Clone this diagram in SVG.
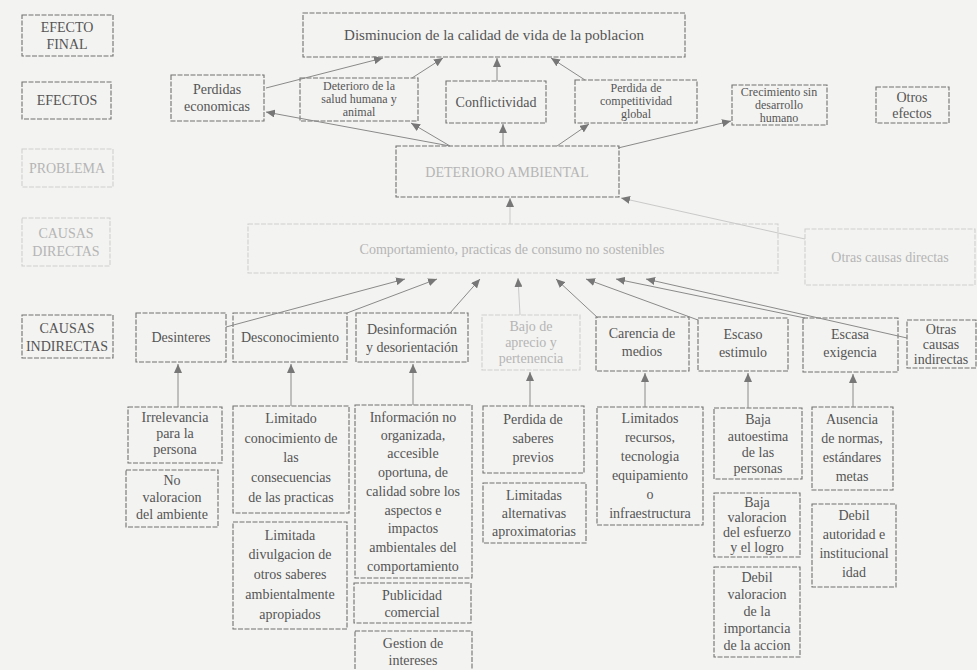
<svg xmlns="http://www.w3.org/2000/svg" width="977" height="670" viewBox="0 0 977 670">
<defs>
<style>
.bg{fill:#f3f3f1}
.box{fill:none;stroke:#707070;stroke-width:1.1;stroke-dasharray:5 1.5}
.fbox{fill:none;stroke:#cfcfcf;stroke-width:1.1;stroke-dasharray:5 1.5}
text{font-family:"Liberation Serif","DejaVu Serif",serif;font-size:14px;fill:#555;text-anchor:middle}
.f{fill:#b5b5b5}
.big{font-size:15px}
.sm{font-size:12px}
.c line{stroke:#8a8a8a;stroke-width:1;fill:none;marker-end:url(#ah)}
.c .fl{stroke:#c9c9c9}
</style>
<marker id="ah" markerUnits="userSpaceOnUse" markerWidth="9" markerHeight="8" refX="9" refY="4" orient="auto">
<path d="M0,0 L9,4 L0,8 z" fill="#777"/>
</marker>
</defs>
<rect class="bg" x="0" y="0" width="977" height="670"/>

<g id="lbl-efecto-final"><rect class="box" x="22" y="15" width="91" height="41"/><text x="67" y="32">EFECTO</text><text x="67" y="49">FINAL</text></g>
<g id="lbl-efectos"><rect class="box" x="22" y="82" width="89" height="37"/><text x="67" y="105">EFECTOS</text></g>
<g id="lbl-problema"><rect class="fbox" x="22" y="149" width="91" height="38"/><text class="f" x="67" y="173">PROBLEMA</text></g>
<g id="lbl-causas-directas"><rect class="fbox" x="22" y="218" width="88" height="48"/><text class="f" x="66" y="238">CAUSAS</text><text class="f" x="66" y="256">DIRECTAS</text></g>
<g id="lbl-causas-indirectas"><rect class="box" x="22" y="315" width="91" height="43"/><text x="67" y="333">CAUSAS</text><text x="67" y="351">INDIRECTAS</text></g>

<g id="efecto-final"><rect class="box" x="303" y="13" width="382" height="44"/><text class="big" x="494" y="40">Disminucion de la calidad de vida de la poblacion</text></g>

<g id="perdidas-economicas"><rect class="box" x="171" y="75" width="93" height="46"/><text x="217" y="94">Perdidas</text><text x="217" y="111">economicas</text></g>
<g id="deterioro-salud"><rect class="box" x="300" y="78" width="118" height="43"/><text class="sm" x="359" y="90">Deterioro de la</text><text class="sm" x="359" y="103">salud humana y</text><text class="sm" x="359" y="116">animal</text></g>
<g id="conflictividad"><rect class="box" x="446" y="81" width="100" height="42"/><text x="496" y="107">Conflictividad</text></g>
<g id="perdida-competitividad"><rect class="box" x="575" y="80" width="122" height="43"/><text class="sm" x="636" y="92">Perdida de</text><text class="sm" x="636" y="105">competitividad</text><text class="sm" x="636" y="118">global</text></g>
<g id="crecimiento"><rect class="box" x="732" y="85" width="95" height="40"/><text class="sm" x="779" y="96">Crecimiento sin</text><text class="sm" x="779" y="109">desarrollo</text><text class="sm" x="779" y="122">humano</text></g>
<g id="otros-efectos"><rect class="box" x="876" y="87" width="73" height="36"/><text x="912" y="102">Otros</text><text x="912" y="118">efectos</text></g>

<g id="problema"><rect class="box" x="396" y="146" width="223" height="51"/><text class="f" x="507" y="177">DETERIORO AMBIENTAL</text></g>

<g id="causa-directa"><rect class="fbox" x="248" y="224" width="530" height="49"/><text class="f" x="512" y="254">Comportamiento, practicas de consumo no sostenibles</text></g>
<g id="otras-causas-directas"><rect class="fbox" x="805" y="229" width="170" height="56"/><text class="f" x="890" y="262">Otras causas directas</text></g>

<g id="desinteres"><rect class="box" x="136" y="313" width="90" height="49"/><text x="181" y="342">Desinteres</text></g>
<g id="desconocimiento"><rect class="box" x="233" y="313" width="114" height="49"/><text x="290" y="342">Desconocimiento</text></g>
<g id="desinformacion"><rect class="box" x="356" y="313" width="112" height="49"/><text x="412" y="334">Desinformación</text><text x="412" y="352">y desorientación</text></g>
<g id="bajo-de"><rect class="fbox" x="482" y="315" width="98" height="55"/><text class="f" x="531" y="331">Bajo de</text><text class="f" x="531" y="347">aprecio y</text><text class="f" x="531" y="363">pertenencia</text></g>
<g id="carencia-medios"><rect class="box" x="596" y="317" width="93" height="54"/><text x="642" y="338">Carencia de</text><text x="642" y="356">medios</text></g>
<g id="escaso-estimulo"><rect class="box" x="698" y="318" width="90" height="53"/><text x="743" y="339">Escaso</text><text x="743" y="357">estimulo</text></g>
<g id="escasa-exigencia"><rect class="box" x="803" y="318" width="95" height="54"/><text x="850" y="339">Escasa</text><text x="850" y="357">exigencia</text></g>
<g id="otras-causas-indirectas"><rect class="box" x="907" y="320" width="69" height="48"/><text x="941" y="334">Otras</text><text x="941" y="349">causas</text><text x="941" y="364">indirectas</text></g>

<g id="irrelevancia"><rect class="box" x="128" y="407" width="94" height="56"/><text x="175" y="422">Irrelevancia</text><text x="175" y="438">para la</text><text x="175" y="454">persona</text></g>
<g id="no-valoracion"><rect class="box" x="126" y="470" width="92" height="57"/><text x="172" y="485">No</text><text x="172" y="502">valoracion</text><text x="172" y="519">del ambiente</text></g>
<g id="limitado-conocimiento"><rect class="box" x="233" y="406" width="116" height="107"/><text x="291" y="423">Limitado</text><text x="291" y="443">conocimiento de</text><text x="291" y="462">las</text><text x="291" y="482">consecuencias</text><text x="291" y="502">de las practicas</text></g>
<g id="limitada-divulgacion"><rect class="box" x="233" y="522" width="114" height="107"/><text x="290" y="540">Limitada</text><text x="290" y="559">divulgacion de</text><text x="290" y="579">otros saberes</text><text x="290" y="599">ambientalmente</text><text x="290" y="619">apropiados</text></g>
<g id="informacion"><rect class="box" x="355" y="405" width="117" height="173"/><text x="413" y="422">Información no</text><text x="413" y="440">organizada,</text><text x="413" y="458">accesible</text><text x="413" y="477">oportuna, de</text><text x="413" y="496">calidad sobre los</text><text x="413" y="515">aspectos e</text><text x="413" y="533">impactos</text><text x="413" y="552">ambientales del</text><text x="413" y="571">comportamiento</text></g>
<g id="publicidad"><rect class="box" x="354" y="583" width="117" height="40"/><text x="412" y="600">Publicidad</text><text x="412" y="617">comercial</text></g>
<g id="gestion"><rect class="box" x="355" y="631" width="117" height="45"/><text x="413" y="648">Gestion de</text><text x="413" y="665">intereses</text></g>
<g id="perdida-saberes"><rect class="box" x="483" y="406" width="101" height="67"/><text x="533" y="424">Perdida de</text><text x="533" y="443">saberes</text><text x="533" y="462">previos</text></g>
<g id="limitadas-alternativas"><rect class="box" x="483" y="483" width="103" height="60"/><text x="534" y="500">Limitadas</text><text x="534" y="518">alternativas</text><text x="534" y="536">aproximatorias</text></g>
<g id="limitados-recursos"><rect class="box" x="597" y="407" width="106" height="118"/><text x="650" y="423">Limitados</text><text x="650" y="442">recursos,</text><text x="650" y="461">tecnologia</text><text x="650" y="480">equipamiento</text><text x="650" y="499">o</text><text x="650" y="518">infraestructura</text></g>
<g id="baja-autoestima"><rect class="box" x="714" y="408" width="88" height="71"/><text x="758" y="424">Baja</text><text x="758" y="441">autoestima</text><text x="758" y="457">de las</text><text x="758" y="473">personas</text></g>
<g id="baja-valoracion"><rect class="box" x="714" y="493" width="86" height="64"/><text x="757" y="507">Baja</text><text x="757" y="522">valoracion</text><text x="757" y="537">del esfuerzo</text><text x="757" y="552">y el logro</text></g>
<g id="debil-valoracion"><rect class="box" x="714" y="567" width="86" height="90"/><text x="757" y="582">Debil</text><text x="757" y="599">valoracion</text><text x="757" y="616">de la</text><text x="757" y="633">importancia</text><text x="757" y="650">de la accion</text></g>
<g id="ausencia-normas"><rect class="box" x="812" y="407" width="81" height="83"/><text x="852" y="424">Ausencia</text><text x="852" y="443">de normas,</text><text x="852" y="462">estándares</text><text x="852" y="481">metas</text></g>
<g id="debil-autoridad"><rect class="box" x="812" y="504" width="84" height="83"/><text x="854" y="520">Debil</text><text x="854" y="539">autoridad e</text><text x="854" y="558">institucional</text><text x="854" y="577">idad</text></g>

<g id="connectors" class="c">
<line x1="266" y1="88" x2="383" y2="58"/>
<line x1="412" y1="78" x2="443" y2="58"/>
<line x1="497" y1="81" x2="497" y2="58"/>
<line x1="585" y1="80" x2="551" y2="58"/>
<line x1="450" y1="146" x2="266" y2="112"/>
<line x1="450" y1="146" x2="411" y2="123"/>
<line x1="503" y1="146" x2="503" y2="124"/>
<line x1="557" y1="146" x2="589" y2="124"/>
<line x1="618" y1="148" x2="731" y2="121"/>
<line class="fl" x1="510" y1="224" x2="510" y2="198"/>
<line class="fl" x1="805" y1="239" x2="621" y2="198"/>
<line x1="226" y1="327" x2="405" y2="279"/>
<line x1="347" y1="313" x2="437" y2="279"/>
<line x1="450" y1="313" x2="480" y2="279"/>
<line class="fl" x1="520" y1="315" x2="518" y2="278"/>
<line x1="598" y1="318" x2="556" y2="279"/>
<line x1="698" y1="320" x2="586" y2="279"/>
<line x1="805" y1="318" x2="616" y2="279"/>
<line x1="907" y1="338" x2="646" y2="279"/>
<line x1="178" y1="407" x2="178" y2="364"/>
<line x1="291" y1="406" x2="291" y2="364"/>
<line x1="413" y1="405" x2="413" y2="364"/>
<line x1="530" y1="406" x2="530" y2="372"/>
<line x1="645" y1="407" x2="645" y2="373"/>
<line x1="748" y1="408" x2="748" y2="373"/>
<line x1="853" y1="407" x2="853" y2="374"/>
</g>
</svg>
